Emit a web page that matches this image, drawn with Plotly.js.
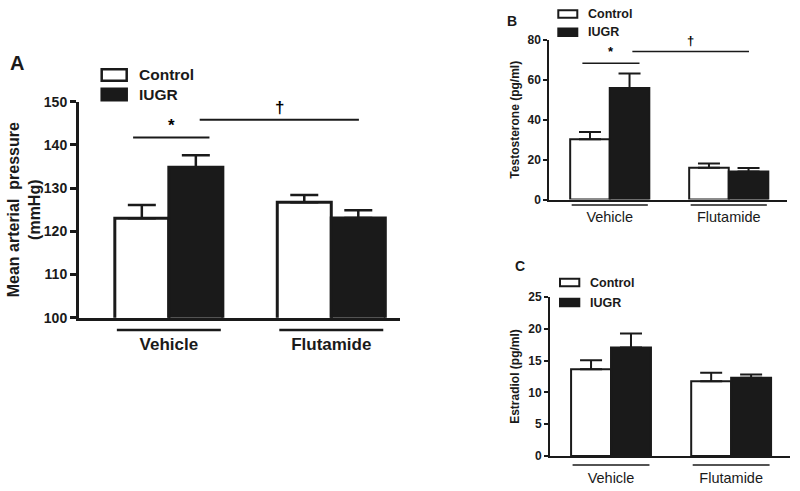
<!DOCTYPE html>
<html>
<head>
<meta charset="utf-8">
<script src="https://cdn.plot.ly/plotly-3.0.1.min.js"></script>
<style>html,body{margin:0;padding:0;background:#fff;}#chart{width:800px;height:491px;}</style>
</head>
<body>
<div id="chart"></div>
<script>
// ---- data ----
const categories = ["Vehicle", "Flutamide"];
const seriesNames = ["Control", "IUGR"];

// Panel A: Mean arterial pressure (mmHg)
const mapControl = [123.0, 126.7];
const mapControlErr = [3.1, 1.7];
const mapIUGR = [134.8, 123.1];
const mapIUGRErr = [2.8, 1.8];

// Panel B: Testosterone (pg/ml)
const testoControl = [30.2, 15.9];
const testoControlErr = [3.7, 2.2];
const testoIUGR = [55.9, 14.1];
const testoIUGRErr = [7.3, 1.7];

// Panel C: Estradiol (pg/ml)
const estraControl = [13.65, 11.75];
const estraControlErr = [1.4, 1.35];
const estraIUGR = [17.05, 12.3];
const estraIUGRErr = [2.2, 0.5];

// significance markers: [label, fromX, toX, y]
const sigA = [["*", -0.22, 0.25, 141.7], ["\u2020", 0.19, 1.17, 145.8]];
const sigB = [["*", -0.23, 0.25, 68.3], ["\u2020", 0.19, 1.17, 74.2]];

// ---- styling ----
const FONT = "Liberation Sans, Arial, Helvetica, sans-serif";
const BLACK = "#1a1a1a";
const W = 800, H = 491;
const px = x => x / W;
const py = y => 1 - y / H;

function barPair(ctrl, ctrlErr, iugr, iugrErr, xa, ya, lw, ew, et) {
  const mk = (name, y, err, fill) => ({
    type: "bar", name: name, x: categories, y: y, xaxis: xa, yaxis: ya,
    marker: {color: fill, line: {color: BLACK, width: lw}},
    error_y: {type: "data", symmetric: false, array: err, arrayminus: err.map(() => 0),
              color: BLACK, thickness: et, width: ew, visible: true},
    showlegend: false, hoverinfo: "skip"
  });
  return [mk(seriesNames[0], ctrl, ctrlErr, "#ffffff"), mk(seriesNames[1], iugr, iugrErr, BLACK)];
}

const data = [
  ...barPair(mapControl, mapControlErr, mapIUGR, mapIUGRErr, "x", "y", 3, 14, 2.5),
  ...barPair(testoControl, testoControlErr, testoIUGR, testoIUGRErr, "x2", "y2", 2, 11, 2),
  ...barPair(estraControl, estraControlErr, estraIUGR, estraIUGRErr, "x3", "y3", 2, 11, 2)
];

function xAxis(domain, range, lw, fsize, bold, standoff) {
  return {
    domain: domain, range: range, type: "category", showline: true, linecolor: BLACK, linewidth: lw,
    ticks: "outside", ticklen: standoff, tickcolor: "rgba(0,0,0,0)", showgrid: false, zeroline: false,
    tickfont: {family: FONT, size: fsize, color: BLACK, weight: bold ? "bold" : "normal"},
    fixedrange: true
  };
}
function yAxis(domain, range, dtick, lw, tlen, fsize, title, tsize, standoff) {
  return {
    domain: domain, range: range, dtick: dtick, tick0: range[0], showline: true, linecolor: BLACK,
    linewidth: lw, ticks: "outside", ticklen: tlen, tickwidth: lw, tickcolor: BLACK,
    showgrid: false, zeroline: false,
    tickfont: {family: FONT, size: fsize, color: BLACK, weight: "bold"},
    title: {text: title, font: {family: FONT, size: tsize, color: BLACK, weight: "bold"}, standoff: standoff},
    fixedrange: true
  };
}

const shapes = [];
const annotations = [];

function sigMarks(list, xa, ya, lw, fsize, textOffset) {
  list.forEach(s => {
    shapes.push({type: "line", xref: xa, yref: ya, x0: s[1], x1: s[2], y0: s[3], y1: s[3],
                 line: {color: BLACK, width: lw}});
    annotations.push({xref: xa, yref: ya, x: (s[1] + s[2]) / 2, y: s[3], text: s[0], showarrow: false,
                      yanchor: "bottom", yshift: textOffset,
                      font: {family: FONT, size: fsize, color: "#000000", weight: "bold"}});
  });
}
function underlines(xa, ya, yd, lw) {
  categories.forEach((c, i) => {
    shapes.push({type: "line", xref: xa, yref: ya + " domain", x0: i - 0.32, x1: i + 0.32, y0: yd, y1: yd,
                 line: {color: BLACK, width: lw}});
  });
}
function legendBox(x0, x1, yc, yi, h, lw, tx, fsize) {
  [[yc, "#ffffff", seriesNames[0]], [yi, BLACK, seriesNames[1]]].forEach(e => {
    shapes.push({type: "rect", xref: "paper", yref: "paper", x0: px(x0), x1: px(x1),
                 y0: py(e[0] - h / 2), y1: py(e[0] + h / 2), fillcolor: e[1], line: {color: BLACK, width: lw}});
    annotations.push({xref: "paper", yref: "paper", x: px(tx), y: py(e[0]), xanchor: "left", yanchor: "middle",
                      text: e[2], showarrow: false, font: {family: FONT, size: fsize, color: BLACK, weight: "bold"}});
  });
}
function panelLetter(t, x, y, fsize) {
  annotations.push({xref: "paper", yref: "paper", x: px(x), y: py(y), xanchor: "center", yanchor: "middle",
                    text: t, showarrow: false, font: {family: FONT, size: fsize, color: BLACK, weight: "bold"}});
}

sigMarks(sigA, "x", "y", 2, 17, 1);
sigMarks(sigB, "x2", "y2", 1.5, 13, 2);
underlines("x", "y", -0.057, 2.5);
underlines("x2", "y2", -0.035, 1.5);
underlines("x3", "y3", -0.057, 1.5);
legendBox(101.7, 126.7, 75, 94.5, 11.5, 2.5, 137, 15.5);
legendBox(558.3, 577.3, 14, 32.2, 7.5, 2, 585.5, 12.5);
legendBox(560, 579.3, 282.6, 302.5, 7.5, 2, 588, 12.5);
panelLetter("A", 16.5, 63, 20);
panelLetter("B", 512, 21.5, 14);
panelLetter("C", 520, 266, 14);

const layout = {
  width: W, height: H, autosize: false,
  margin: {l: 0, r: 0, t: 0, b: 0, pad: 0},
  paper_bgcolor: "#ffffff", plot_bgcolor: "#ffffff",
  barmode: "group", bargap: 0.335, bargroupgap: 0,
  showlegend: false,
  font: {family: FONT, color: BLACK},
  xaxis: Object.assign(xAxis([px(79), px(400)], [-0.553, 1.423], 3, 17, true, 9), {anchor: "y"}),
  yaxis: Object.assign(yAxis([py(317.7), py(101.7)], [100, 150], 10, 3, 6, 14,
                              "Mean arterial\u00a0 pressure<br>(mmHg)", 16, 0), {anchor: "x"}),
  xaxis2: Object.assign(xAxis([px(549.3), px(786.7)], [-0.508, 1.487], 2, 14.5, false, 3), {anchor: "y2"}),
  yaxis2: Object.assign(yAxis([py(199.5), py(40)], [0, 80], 20, 2, 4, 12, "Testosterone (pg/ml)", 12, 5), {anchor: "x2"}),
  xaxis3: Object.assign(xAxis([px(550), px(790)], [-0.508, 1.49], 2, 14.5, false, 8), {anchor: "y3"}),
  yaxis3: Object.assign(yAxis([py(456), py(297)], [0, 25], 5, 2, 4, 12, "Estradiol (pg/ml)", 12, 6), {anchor: "x3"}),
  shapes: shapes,
  annotations: annotations
};

Plotly.newPlot("chart", data, layout, {displayModeBar: false, staticPlot: true});
</script>
</body>
</html>
